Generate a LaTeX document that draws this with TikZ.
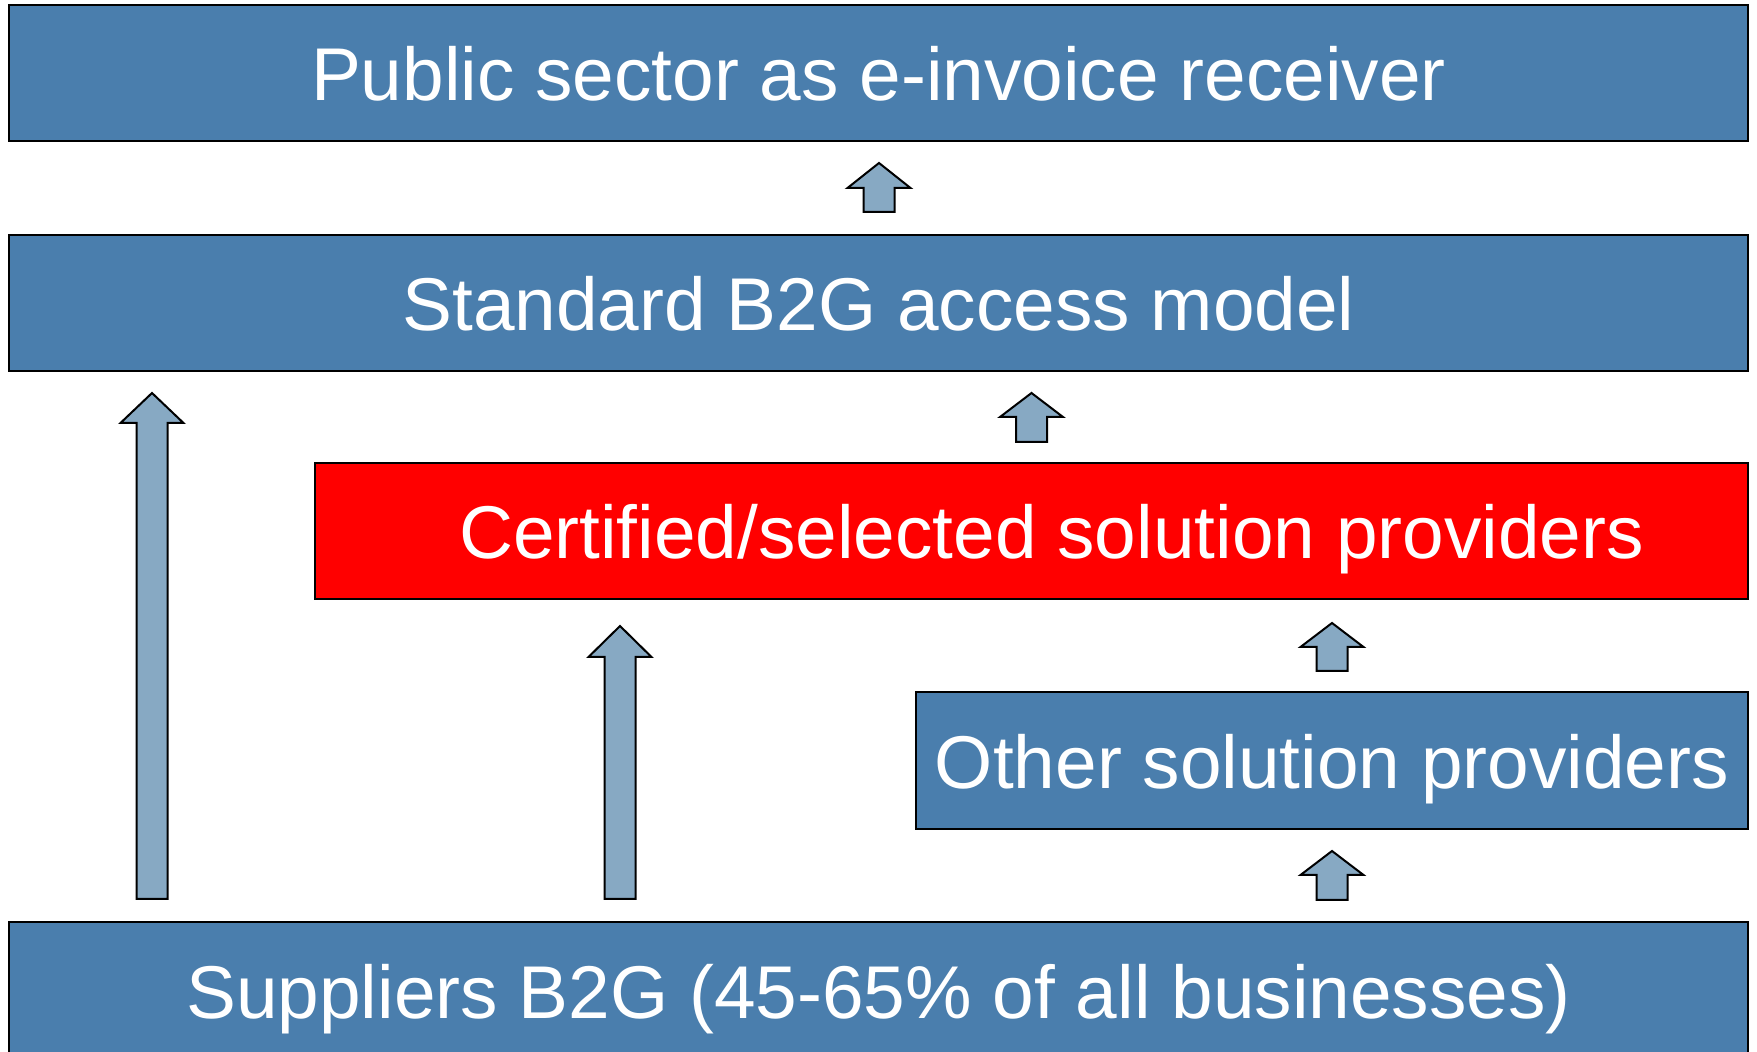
\documentclass[tikz,border=0pt]{standalone}
\usepackage{fontspec}
\setmainfont{Liberation Sans}
\definecolor{boxblue}{RGB}{74,126,173}
\definecolor{arrowblue}{RGB}{135,169,195}
\definecolor{boxred}{RGB}{255,0,0}
\tikzset{
  box/.style={draw=black, line width=1pt, fill=boxblue, text=white, inner sep=0pt,
    minimum height=68pt, text height=28pt, text depth=0pt,
    font=\fontsize{37.4}{45}\selectfont},
  redbox/.style={box, fill=boxred},
  barrow/.style={draw=black, line width=1pt, fill=arrowblue, line join=miter}
}
% #1 center x, #2 tip y, #3 wing y, #4 bottom y (px units)
\newcommand{\blockarrow}[4]{%
  \draw[barrow] (#1,#2) -- (#1+31.5,#3) -- (#1+15.5,#3) -- (#1+15.5,#4)
    -- (#1-15.5,#4) -- (#1-15.5,#3) -- (#1-31.5,#3) -- cycle;}
\begin{document}
\begin{tikzpicture}[x=0.5pt,y=-0.5pt]
\useasboundingbox (0,0) rectangle (1757,1052);
\node[box, minimum width=869.5pt] (pub) at (878.5,73) {Public sector as e-invoice receiver};
\node[box, minimum width=869.5pt] (std) at (878.5,303) {Standard B2G access model};
\node[redbox, minimum width=716.5pt] (cert) at (1031.5,531) {\hspace*{20pt}Certified/selected solution providers};
\node[box, minimum width=416pt, minimum height=68.5pt] (oth) at (1332,760.5) {Other solution providers};
\node[box, minimum width=869.5pt] (sup) at (878.5,990) {Suppliers B2G (45-65\% of all businesses)};
% arrows
\blockarrow{879}{163}{188}{212}
\blockarrow{1031.5}{393}{417}{442}
\blockarrow{1332}{623}{647}{671}
\blockarrow{1332}{851}{875}{900}
\blockarrow{152}{393}{423}{899}
\blockarrow{620}{626}{657}{899}
\end{tikzpicture}
\end{document}
